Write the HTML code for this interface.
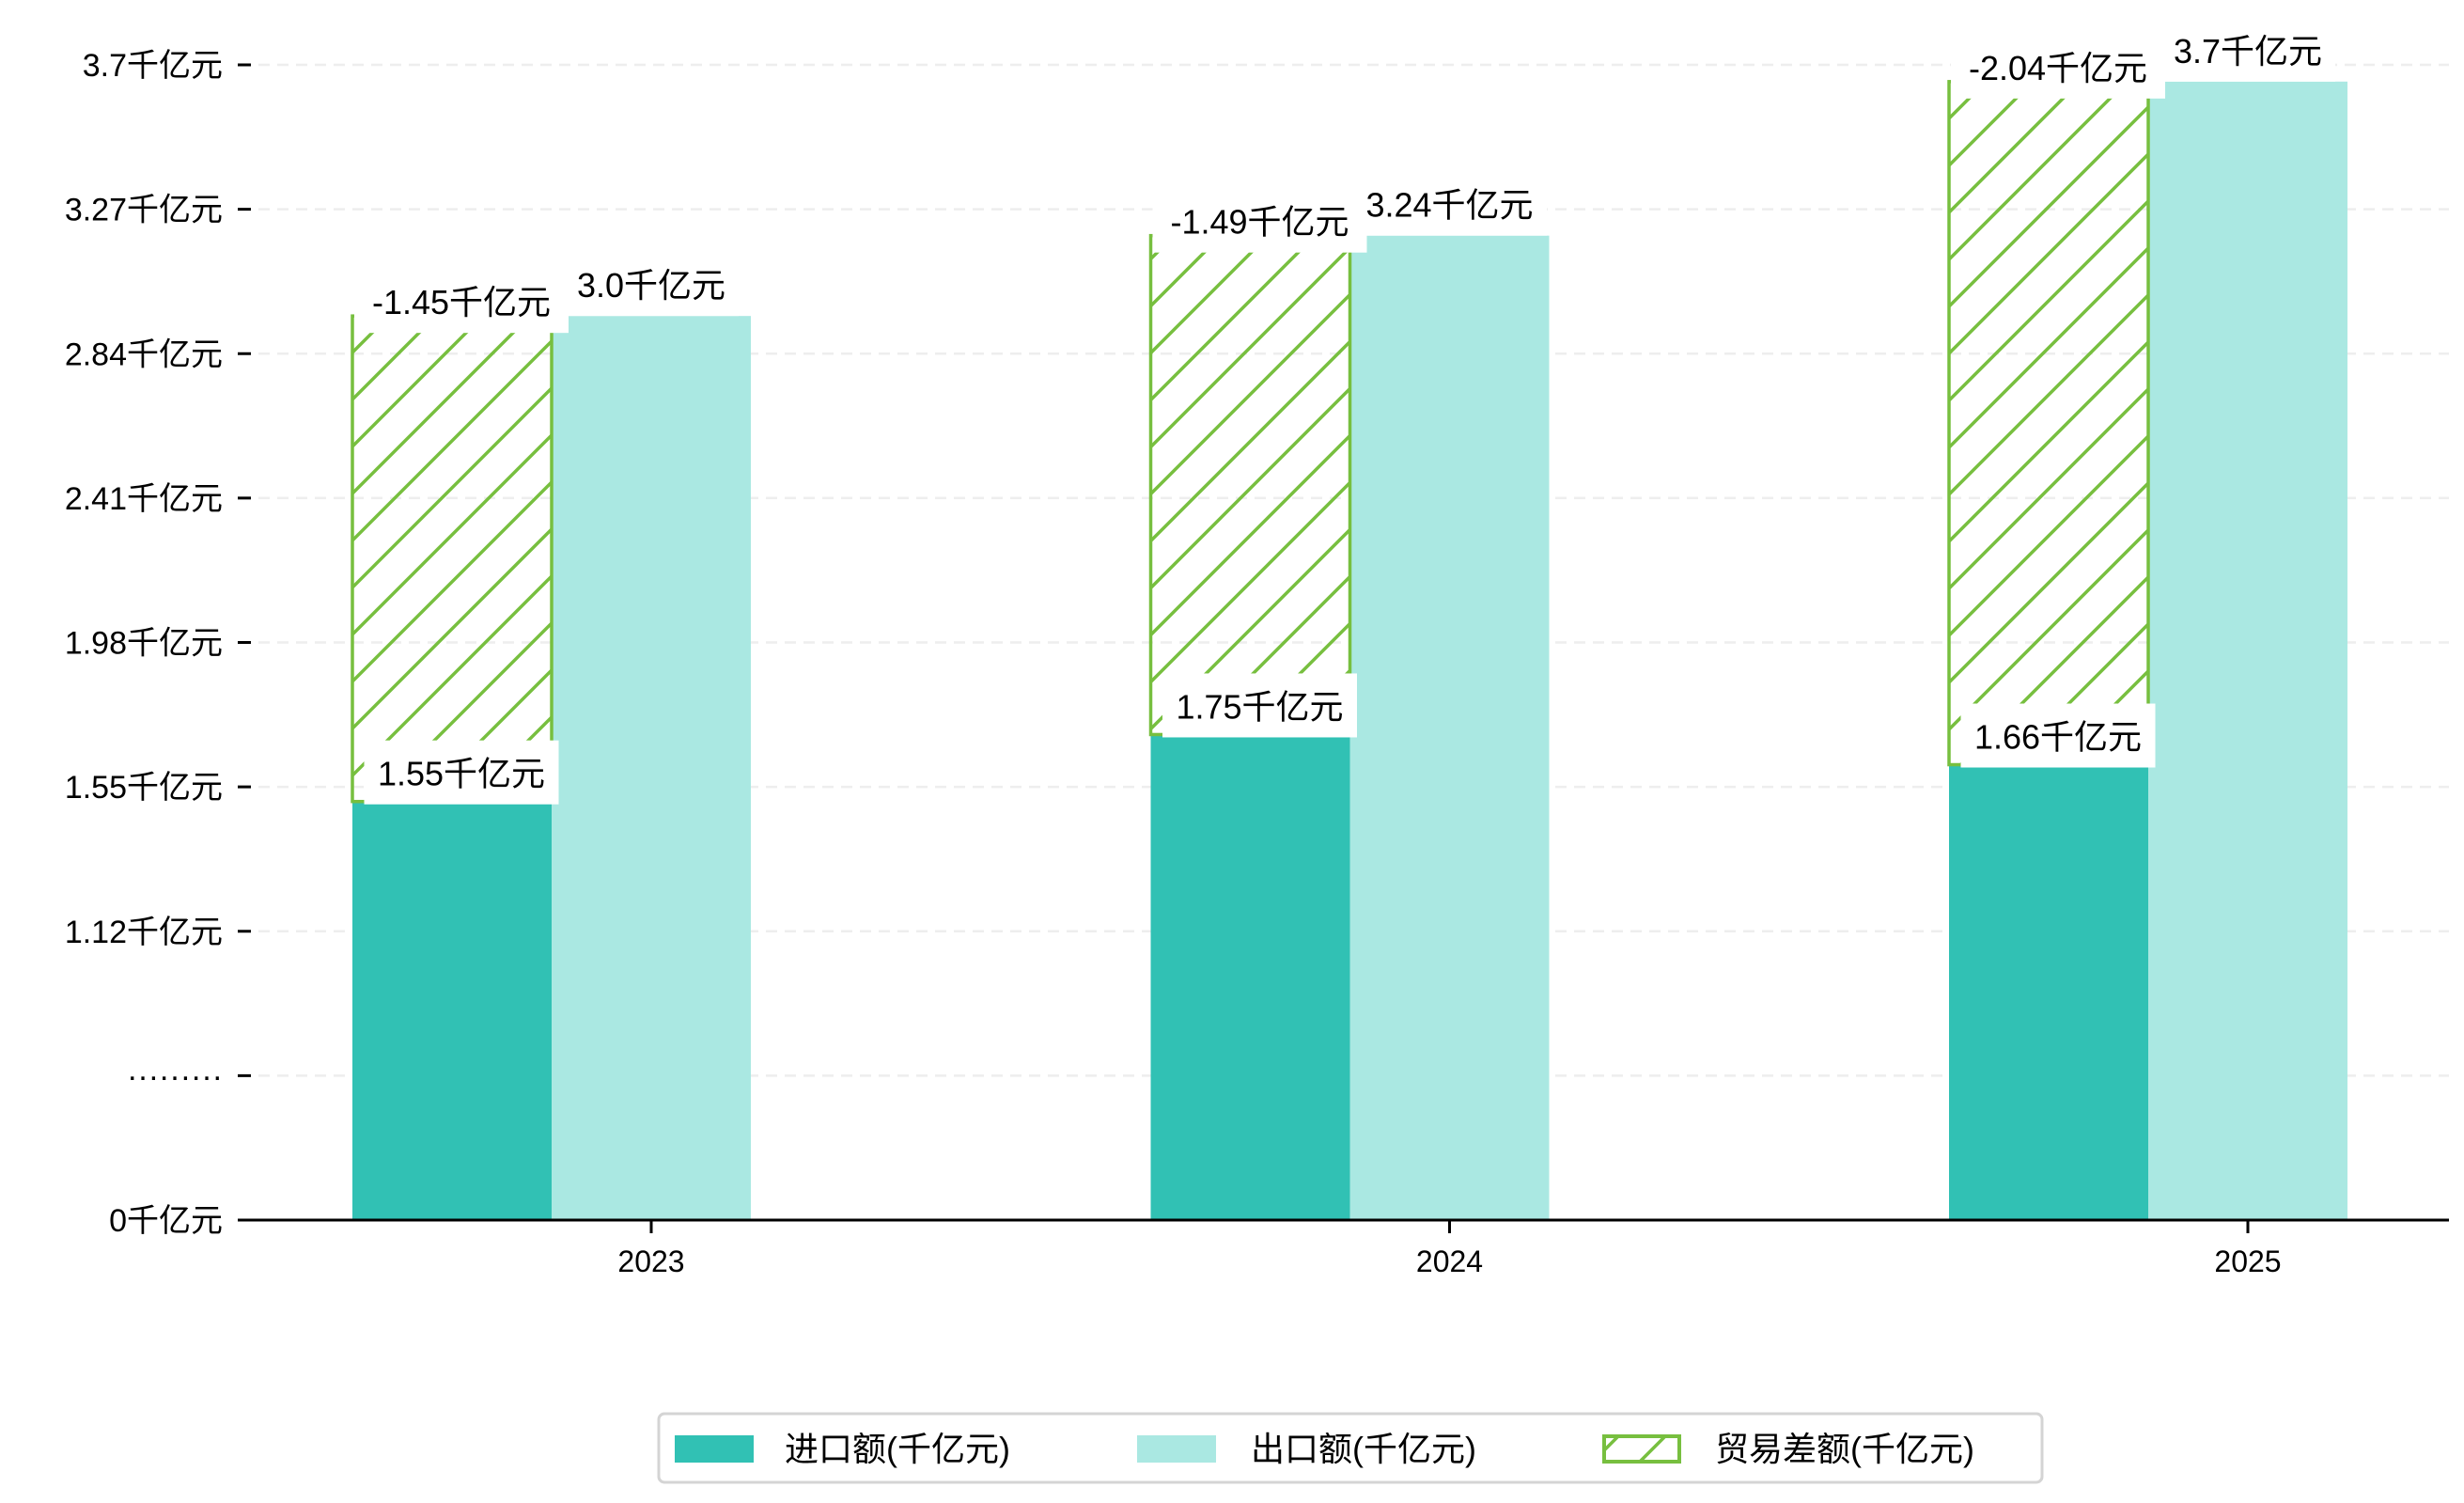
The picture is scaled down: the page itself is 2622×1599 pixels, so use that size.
<!DOCTYPE html>
<html><head><meta charset="utf-8"><style>
html,body{margin:0;padding:0;background:#fff;}
svg{display:block;font-family:"Liberation Sans","Noto Sans CJK SC",sans-serif;}
</style></head><body>
<svg id="chart" width="2622" height="1599" viewBox="0 0 2622 1599" xmlns="http://www.w3.org/2000/svg">
<defs>
<pattern id="hatch" patternUnits="userSpaceOnUse" width="50" height="50">
<path d="M-10,60 L60,-10 M-10,10 L10,-10 M40,60 L60,40" stroke="#77bf3f" stroke-width="3.5"/>
</pattern>
</defs>
<g id="grid"></g>
<g id="bars"></g>
<g id="axes"></g>
<g id="labels"></g>
<g>
<rect x="701" y="1504" width="1472" height="73" rx="6" fill="#fff" stroke="#d4d4d4" stroke-width="3"/>
<rect x="718" y="1527" width="84" height="29" fill="#31c1b4"/>
<text x="835" y="1554" font-size="36">进口额(千亿元)</text>
<rect x="1210" y="1527" width="84" height="29" fill="#aae8e2"/>
<text x="1331" y="1554" font-size="36">出口额(千亿元)</text>
<rect x="1707" y="1528" width="80" height="27" fill="url(#hatch)" stroke="#77bf3f" stroke-width="4"/>
<text x="1825" y="1554" font-size="36">贸易差额(千亿元)</text>
</g>
</svg>
<script>
const categories = ["2023", "2024", "2025"];
const importVals = [1.55, 1.75, 1.66];
const exportVals = [3.0, 3.24, 3.7];
const balanceVals = [-1.45, -1.49, -2.04];
const tickLabels = ["0千亿元", "·········", "1.12千亿元", "1.55千亿元", "1.98千亿元", "2.41千亿元", "2.84千亿元", "3.27千亿元", "3.7千亿元"];
const exportLabelText = ["3.0千亿元", "3.24千亿元", "3.7千亿元"];

const NS = "http://www.w3.org/2000/svg";
const baseY = 1298, axisLeft = 255, axisRight = 2606;
const yMin = 0.3, yMax = 3.75;
function y(v){ return baseY - (v - yMin) / (yMax - yMin) * (baseY - 69); }
const bw = 212;
function xCenter(i){ return 693 + i * 849.5; }
function mk(tag, attrs, parent){ const e = document.createElementNS(NS, tag); for (const k in attrs) e.setAttribute(k, attrs[k]); parent.appendChild(e); return e; }

const grid = document.getElementById('grid'), axes = document.getElementById('axes'), bars = document.getElementById('bars'), labels = document.getElementById('labels');

tickLabels.forEach((t, i) => {
  const tv = yMin + i * (yMax - yMin) / (tickLabels.length - 1);
  const yy = y(tv);
  if (i > 0) {
    const g = mk('line', {x1: axisLeft, x2: axisRight, y1: yy, y2: yy, stroke: '#eeeeee', 'stroke-width': 2.5, 'stroke-dasharray': '12,8'}, grid);
    
    
  }
  const tk = mk('line', {x1: 253, x2: 267, y1: yy, y2: yy, stroke: '#000', 'stroke-width': 3}, axes);
  
  
  const tx = mk('text', {x: 237, y: yy + 12, 'font-size': 34, 'text-anchor': 'end'}, axes);
  tx.textContent = t;
  
  
});

const ax = mk('line', {x1: axisLeft, x2: axisRight, y1: baseY, y2: baseY, stroke: '#000', 'stroke-width': 3}, axes);



function addLabel(text, cx, bottom, name){
  const h = 68, w = text.length * 21 + 60;
  const r = mk('rect', {x: cx - w/2, y: bottom - h, width: w, height: h, fill: '#fff'}, labels);
  
  
  const t = mk('text', {x: cx, y: bottom - 20, 'font-size': 36, 'text-anchor': 'middle'}, labels);
  t.textContent = text;
  
  
}

categories.forEach((c, i) => {
  const cx = xCenter(i);
  const ix = cx - 1.5 * bw, ex = cx - 0.5 * bw;
  const ib = mk('rect', {x: ix, y: y(importVals[i]), width: bw, height: baseY - y(importVals[i]), fill: '#31c1b4'}, bars);
  
  
  const eb = mk('rect', {x: ex, y: y(exportVals[i]), width: bw, height: baseY - y(exportVals[i]), fill: '#aae8e2'}, bars);
  
  
  const top = importVals[i] + Math.abs(balanceVals[i]);
  const hb = mk('rect', {x: ix, y: y(top), width: bw, height: y(importVals[i]) - y(top), fill: 'url(#hatch)', stroke: '#77bf3f', 'stroke-width': 3.5}, bars);
  
  
  const tk = mk('line', {x1: cx, x2: cx, y1: baseY, y2: baseY + 14, stroke: '#000', 'stroke-width': 3}, axes);
  
  
  const tl = mk('text', {x: cx, y: baseY + 55, 'font-size': 32, 'text-anchor': 'middle'}, axes);
  tl.textContent = c;
  
  
  addLabel(exportLabelText[i], ex + bw / 2, y(exportVals[i]), 'export-value-label');
  addLabel(importVals[i].toFixed(2) + '千亿元', ix + bw / 2 + 10, y(importVals[i]) + 3, 'import-value-label');
  addLabel(balanceVals[i].toFixed(2) + '千亿元', ix + bw / 2 + 10, y(top) + 18, 'balance-value-label');
});
</script>
</body></html>
